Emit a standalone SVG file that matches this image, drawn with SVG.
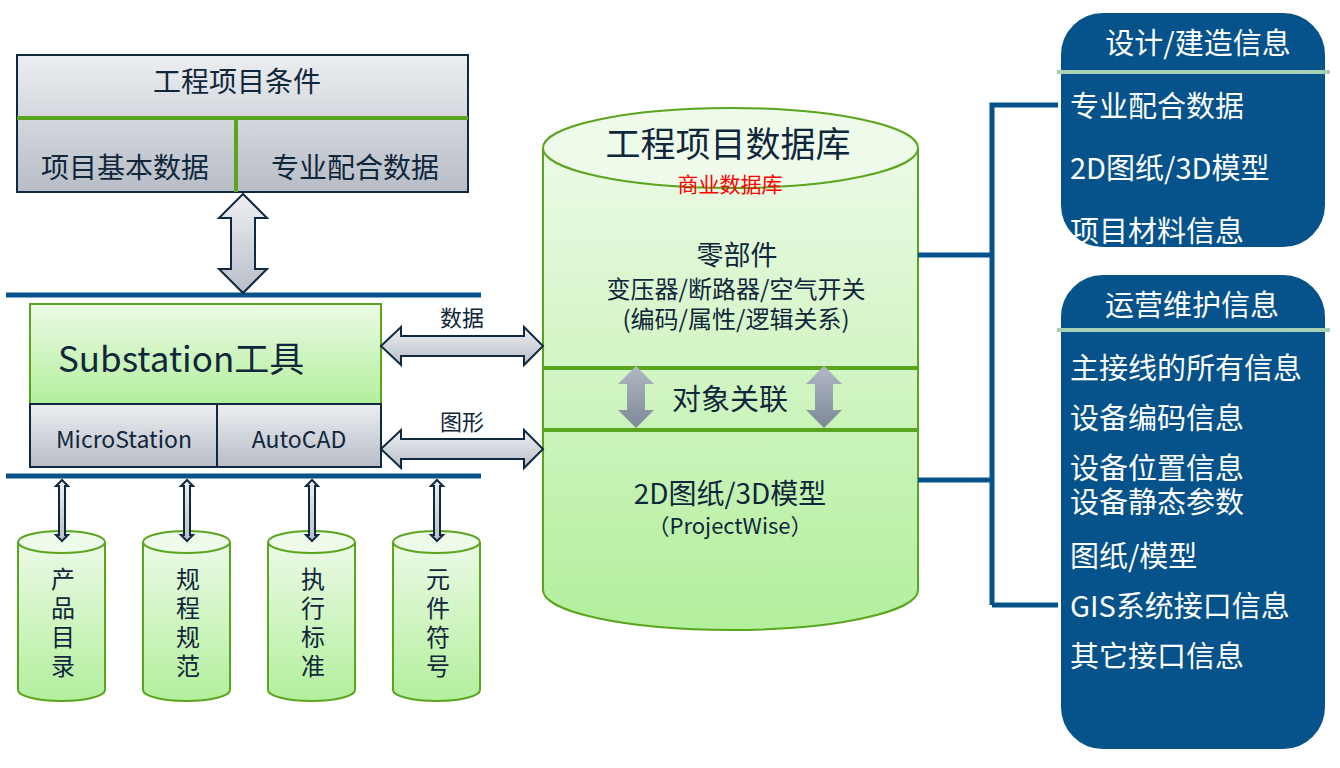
<svg xmlns="http://www.w3.org/2000/svg" width="1340" height="768" viewBox="0 0 1340 768">
<style>
text{font-family:"Noto Sans CJK SC","Liberation Sans",sans-serif;fill:#10263a}
.w{fill:#fff}
.g{stroke:#5aa51e;stroke-width:2}
.gray{stroke:#0f2a40;stroke-width:2;fill:url(#gg)}
.arr{fill:url(#ga);stroke:#0f2a40;stroke-width:2}
.bus{stroke:#06528a;stroke-width:5;fill:none}
.blue{fill:#06528a;stroke:#fff;stroke-width:6}
</style>
<defs>
<linearGradient id="gg" x1="0" y1="0" x2="0" y2="1"><stop offset="0" stop-color="#eceef1"/><stop offset="1" stop-color="#b7bcc6"/></linearGradient>
<linearGradient id="gn" x1="0" y1="0" x2="0" y2="1"><stop offset="0" stop-color="#ecfae6"/><stop offset="1" stop-color="#b2ef9c"/></linearGradient>
<linearGradient id="ga" x1="0" y1="0" x2="0" y2="1"><stop offset="0" stop-color="#eef0f3"/><stop offset="1" stop-color="#b8bdc7"/></linearGradient>
<linearGradient id="gm" x1="0" y1="0" x2="0" y2="1"><stop offset="0" stop-color="#b0b8c4"/><stop offset="1" stop-color="#7e8896"/></linearGradient>
</defs>

<g id="project-conditions">
<rect x="17" y="55" width="451" height="137" class="gray"/>
<line x1="17" y1="118" x2="468" y2="118" stroke="#5aa51e" stroke-width="4"/>
<line x1="236" y1="118" x2="236" y2="192" stroke="#5aa51e" stroke-width="4"/>
<text x="237" y="92" font-size="28" text-anchor="middle">工程项目条件</text>
<text x="125" y="178" font-size="28" text-anchor="middle">项目基本数据</text>
<text x="355" y="178" font-size="28" text-anchor="middle">专业配合数据</text>
</g>

<g id="substation">
<rect x="30" y="304" width="351" height="100" fill="url(#gn)" class="g"/>
<rect x="30" y="404" width="351" height="63" class="gray"/>
<line x1="217" y1="404" x2="217" y2="467" stroke="#0f2a40" stroke-width="2"/>
<text x="58" y="372" font-size="35">Substation工具</text>
<text x="124" y="448" font-size="23" text-anchor="middle">MicroStation</text>
<text x="299" y="448" font-size="23" text-anchor="middle">AutoCAD</text>
</g>

<g id="database">
<path d="M543,148 V590 A187.5,40 0 0 0 918,590 V148" fill="url(#gn)" class="g"/>
<ellipse cx="730.5" cy="148" rx="187.5" ry="40" fill="#effbea" class="g"/>
<line x1="543" y1="368" x2="918" y2="368" stroke="#5aa51e" stroke-width="4"/>
<line x1="543" y1="430" x2="918" y2="430" stroke="#5aa51e" stroke-width="4"/>
<text x="728" y="157" font-size="35" text-anchor="middle">工程项目数据库</text>
<text x="730" y="192" font-size="21" text-anchor="middle" style="fill:#f00">商业数据库</text>
<text x="737" y="265" font-size="27" text-anchor="middle">零部件</text>
<text x="736" y="298" font-size="24" text-anchor="middle">变压器/断路器/空气开关</text>
<text x="736" y="328" font-size="24" text-anchor="middle">(编码/属性/逻辑关系)</text>
<path d="M636,366 l-18,18 h9 v26 h-9 l18,18 l18,-18 h-9 v-26 h9 z" fill="url(#gm)"/>
<path d="M824,366 l-18,18 h9 v26 h-9 l18,18 l18,-18 h-9 v-26 h9 z" fill="url(#gm)"/>
<text x="730" y="410" font-size="29" text-anchor="middle">对象关联</text>
<text x="730" y="504" font-size="28" text-anchor="middle">2D图纸/3D模型</text>
<text x="730" y="534" font-size="22" text-anchor="middle">（ProjectWise）</text>
</g>

<g id="cyl1"><path d="M18,542 V690 A43.5,11 0 0 0 105,690 V542" fill="url(#gn)" class="g"/><ellipse cx="61.5" cy="542" rx="43.5" ry="11" fill="#effbea" class="g"/>
<text font-size="24" text-anchor="middle"><tspan x="63" y="588">产</tspan><tspan x="63" y="617">品</tspan><tspan x="63" y="646">目</tspan><tspan x="63" y="675">录</tspan></text></g>
<g id="cyl2"><path d="M143,542 V690 A43.5,11 0 0 0 230,690 V542" fill="url(#gn)" class="g"/><ellipse cx="186.5" cy="542" rx="43.5" ry="11" fill="#effbea" class="g"/>
<text font-size="24" text-anchor="middle"><tspan x="188" y="588">规</tspan><tspan x="188" y="617">程</tspan><tspan x="188" y="646">规</tspan><tspan x="188" y="675">范</tspan></text></g>
<g id="cyl3"><path d="M268,542 V690 A43.5,11 0 0 0 355,690 V542" fill="url(#gn)" class="g"/><ellipse cx="311.5" cy="542" rx="43.5" ry="11" fill="#effbea" class="g"/>
<text font-size="24" text-anchor="middle"><tspan x="313" y="588">执</tspan><tspan x="313" y="617">行</tspan><tspan x="313" y="646">标</tspan><tspan x="313" y="675">准</tspan></text></g>
<g id="cyl4"><path d="M393,542 V690 A43.5,11 0 0 0 480,690 V542" fill="url(#gn)" class="g"/><ellipse cx="436.5" cy="542" rx="43.5" ry="11" fill="#effbea" class="g"/>
<text font-size="24" text-anchor="middle"><tspan x="438" y="588">元</tspan><tspan x="438" y="617">件</tspan><tspan x="438" y="646">符</tspan><tspan x="438" y="675">号</tspan></text></g>

<g id="design-info">
<rect x="1058" y="10" width="270" height="240" rx="45" class="blue"/>
<line x1="1057" y1="72" x2="1330" y2="72" stroke="#a8d0b4" stroke-width="4"/>
<text x="1198" y="54" font-size="29" class="w" text-anchor="middle">设计/建造信息</text>
<text x="1070" y="117" font-size="29" class="w">专业配合数据</text>
<text x="1070" y="179" font-size="29" class="w">2D图纸/3D模型</text>
<text x="1070" y="242" font-size="29" class="w">项目材料信息</text>
</g>

<g id="ops-info">
<rect x="1058" y="272" width="270" height="480" rx="45" class="blue"/>
<line x1="1057" y1="330" x2="1330" y2="330" stroke="#a8d0b4" stroke-width="4"/>
<text x="1192" y="316" font-size="29" class="w" text-anchor="middle">运营维护信息</text>
<text x="1070" y="379" font-size="29" class="w">主接线的所有信息</text>
<text x="1070" y="429" font-size="29" class="w">设备编码信息</text>
<text x="1070" y="479" font-size="29" class="w">设备位置信息</text>
<text x="1070" y="513" font-size="29" class="w">设备静态参数</text>
<text x="1070" y="567" font-size="29" class="w">图纸/模型</text>
<text x="1070" y="617" font-size="29" class="w">GIS系统接口信息</text>
<text x="1070" y="667" font-size="29" class="w">其它接口信息</text>
</g>

<g id="connectors">
<line x1="6" y1="295" x2="481" y2="295" class="bus"/>
<line x1="6" y1="476" x2="481" y2="476" class="bus"/>
<path d="M992,605 V105 H1058 M918,255 H992 M918,480 H992 M992,605 H1058" class="bus"/>
<path d="M243,194 l-24,24 h12 v51 h-12 l24,24 l24,-24 h-12 v-51 h12 z" class="arr"/>
<path d="M381,346 l20,-19 v9 h123 v-9 l19,19 l-19,19 v-9 h-123 v9 z" class="arr"/>
<text x="462" y="326" font-size="22" text-anchor="middle">数据</text>
<path d="M381,449 l20,-19 v9 h123 v-9 l19,19 l-19,19 v-9 h-123 v9 z" class="arr"/>
<text x="462" y="430" font-size="22" text-anchor="middle">图形</text>
<g class="arr">
<path d="M62,480 l-6,6 h3 v49 h-3 l6,6 l6,-6 h-3 v-49 h3 z"/>
<path d="M187,480 l-6,6 h3 v49 h-3 l6,6 l6,-6 h-3 v-49 h3 z"/>
<path d="M312,480 l-6,6 h3 v49 h-3 l6,6 l6,-6 h-3 v-49 h3 z"/>
<path d="M437,480 l-6,6 h3 v49 h-3 l6,6 l6,-6 h-3 v-49 h3 z"/>
</g>
</g>
</svg>
